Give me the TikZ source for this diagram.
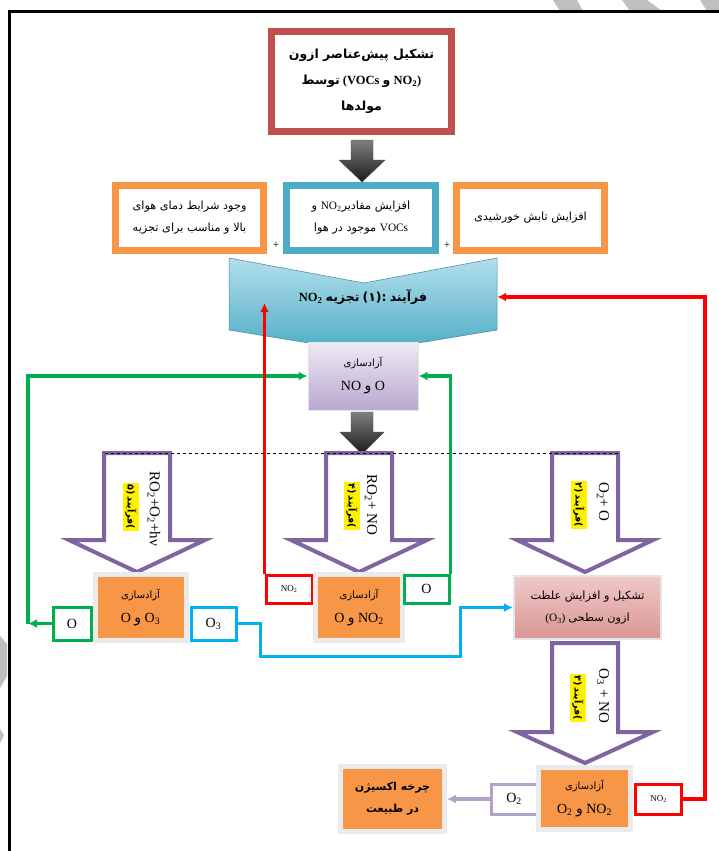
\documentclass[tikz,border=0pt]{standalone}
\usepackage{fontspec}
\setmainfont{Liberation Serif}
\newfontfamily\arabicfont[Script=Arabic]{DejaVu Sans}
\TeXXeTstate=1
\usetikzlibrary{arrows.meta,calc}

\definecolor{boxred}{HTML}{C0504D}
\definecolor{boxorange}{HTML}{F79646}
\definecolor{boxblue}{HTML}{4BACC6}
\definecolor{chevtop}{HTML}{B4DFEB}
\definecolor{chevbot}{HTML}{4BACC6}
\definecolor{arrowpurple}{HTML}{8064A2}
\definecolor{lavtop}{HTML}{EEEAF4}
\definecolor{lavbot}{HTML}{B9A8CF}
\definecolor{pinktop}{HTML}{EFC9C8}
\definecolor{pinkbot}{HTML}{D99694}
\definecolor{flowgreen}{HTML}{00B050}
\definecolor{flowblue}{HTML}{00B0F0}
\definecolor{flowlav}{HTML}{B3A2C7}
\definecolor{wmgray}{HTML}{BFBFBF}

\newcommand{\fa}[1]{{\arabicfont\beginR #1\endR}}
\newcommand{\lat}[1]{\beginL{\rmfamily #1}\endL{}}
\newcommand{\stagelbl}[1]{{\arabicfont (#1\,}\fa{فرآیند}{\arabicfont )}}
\newcommand{\chemtxt}[1]{{\fontsize{14}{20}\selectfont #1}}

\tikzset{
  dblbox/.style={draw=#1, line width=5pt, fill=white, align=center, inner sep=0pt},
  relbox/.style={fill=boxorange, draw=black!8, line width=5pt, align=center, inner sep=0pt},
  tagbox/.style={draw=#1, line width=3pt, fill=white, inner sep=0pt, font=\fontsize{14}{16}\selectfont},
  hollow/.style={draw=arrowpurple, line width=4pt, fill=white, line join=miter},
  rlabel/.style={rotate=-90, inner sep=0pt, font=\fontsize{15}{16}\selectfont},
  hilite/.style={rotate=-90, fill=yellow, inner sep=2pt, font=\bfseries\fontsize{9.5}{11}\selectfont},
  flow/.style={line width=3.5pt, -{Latex[length=9pt,width=9pt]}}
}

\begin{document}
\begin{tikzpicture}[x=1pt, y=-1pt, font=\fontsize{11.3}{22}\selectfont]
\useasboundingbox[fill=white] (0,0) rectangle (719,851);
% watermark bits and frame
\fill[wmgray] (553,0) -- (577,0) -- (583,11) -- (560,11) -- cycle;
\fill[wmgray] (622,0) -- (647,0) -- (662,11) -- (630,11) -- cycle;
\fill[wmgray] (700,0) -- (719,0) -- (719,11) -- (707,11) -- cycle;
\fill[wmgray] (0,636) -- (7,644) -- (7,676) -- (0,688) -- cycle;
\fill[wmgray] (0,729) -- (4,735) -- (0,743) -- cycle;
\draw[line width=3pt] (9,851) -- (9,12) -- (719,12);

% top
\node[dblbox=boxred, minimum width=182, minimum height=102, font=\bfseries\fontsize{12.5}{26}\selectfont] (src) at (361.5,81.5)
  {\fa{تشکیل پیش‌عناصر ازون}\\ \fa{توسط} (VOCs \fa{و} NO\textsubscript{2})\\ \fa{مولدها}};
\draw[boxred, line width=1.3pt] ([shift={(6,6)}]src.north west) rectangle ([shift={(-6,-6)}]src.south east);
\shade[top color=black!50, bottom color=black!90, draw=black!70] (351,140) -- (373,140) -- (373,160) -- (385,160) -- (362,182) -- (339,160) -- (351,160) -- cycle;

% conditions
\node[dblbox=boxorange, minimum width=150, minimum height=67] (heat) at (189.5,218)
  {\fa{وجود شرایط دمای هوای}\\ \fa{بالا و مناسب برای تجزیه}};
\node[dblbox=boxblue, minimum width=151, minimum height=67] (pre) at (361,218)
  {\fa{افزایش مقادیر\lat{NO\textsubscript{2}} و}\\ \fa{\lat{VOCs} موجود در هوا}};
\node[dblbox=boxorange, minimum width=150, minimum height=67] (sun) at (530.5,218)
  {\fa{افزایش تابش خورشیدی}};
\foreach \b/\c in {heat/boxorange,pre/boxblue,sun/boxorange}
  \draw[\c, line width=1.2pt] ([shift={(6,6)}]\b.north west) rectangle ([shift={(-6,-6)}]\b.south east);
\node (plusA) at (276,245) {+};
\node (plusB) at (447,245) {+};

% process 1
\shade[top color=chevtop, bottom color=chevbot, draw=chevbot!80!black, line width=0.5pt]
  (229,258) -- (364,283) -- (497,258) -- (497,330) -- (364,352) -- (229,330) -- cycle;
\node[minimum width=268, minimum height=60, font=\bfseries\fontsize{12.5}{14}\selectfont] (proc1) at (363,297)
  {NO\textsubscript{2} \fa{تجزیه} {\arabicfont :(۱)} \fa{فرآیند}};

\node[top color=lavtop, bottom color=lavbot, draw=black!10, line width=1pt, minimum width=110, minimum height=68, align=center, font=\fontsize{10}{24}\selectfont] (free1) at (363,376)
  {\fa{آزادسازی}\\ \chemtxt{NO \fa{و} O}};
\shade[top color=black!50, bottom color=black!90, draw=black!70] (351,412) -- (373,412) -- (373,432) -- (384,432) -- (362,454) -- (340,432) -- (351,432) -- cycle;

% reaction arrows
\foreach \cx in {137,359,585}
  \draw[hollow] (\cx-33,453) -- (\cx+33,453) -- (\cx+33,540) -- (\cx+68,540) -- (\cx,572) -- (\cx-68,540) -- (\cx-33,540) -- cycle;
\draw[hollow] (552,643) -- (618,643) -- (618,732) -- (653,732) -- (585,763) -- (517,732) -- (552,732) -- cycle;
\draw[dashed, line width=0.8pt] (105,453) -- (618,453);

\node[rlabel] (lblA) at (154,509) {RO\textsubscript{2}+O\textsubscript{2}+hν};
\node[hilite] (stA) at (131,507) {\stagelbl{۵}};
\node[rlabel] (lblB) at (371,505) {RO\textsubscript{2}+ NO};
\node[hilite] (stB) at (352,506) {\stagelbl{۴}};
\node[rlabel] (lblC) at (603,502) {O\textsubscript{2}+ O};
\node[hilite] (stC) at (579,505) {\stagelbl{۲}};
\node[rlabel] (lblD) at (603,696) {O\textsubscript{3} + NO};
\node[hilite] (stD) at (578,698) {\stagelbl{۳}};

% releases
\node[relbox, minimum width=91, minimum height=66, font=\fontsize{10}{24}\selectfont] (freeA) at (140.5,607.5)
  {\fa{آزادسازی}\\ \chemtxt{O \fa{و} O\textsubscript{3}}};
\node[tagbox=flowgreen, minimum width=38, minimum height=33] (oA) at (72,623.5) {O};
\node[tagbox=flowblue, minimum width=45, minimum height=33] (o3A) at (213.5,623.5) {O\textsubscript{3}};
\node[tagbox=red, minimum width=46, minimum height=28, font=\fontsize{9}{10}\selectfont] (no2A) at (289,589) {NO\textsubscript{2}};
\node[relbox, minimum width=87, minimum height=66, font=\fontsize{10}{24}\selectfont] (freeB) at (359,607.5)
  {\fa{آزادسازی}\\ \chemtxt{O \fa{و} NO\textsubscript{2}}};
\node[tagbox=flowgreen, minimum width=45, minimum height=28] (oB) at (426.5,589) {O};
\node[top color=pinktop, bottom color=pinkbot, draw=black!10, line width=2pt, minimum width=147, minimum height=63, align=center] (ozone) at (587.5,607.5)
  {\fa{تشکیل و افزایش علظت}\\ (O\textsubscript{3}) \fa{ازون سطحی}};

\node[relbox, minimum width=104, minimum height=65, font=\bfseries\fontsize{11}{22}\selectfont] (cycle) at (392.5,799)
  {\fa{چرخه اکسیژن}\\ \fa{در طبیعت}};
\node[tagbox=flowlav, minimum width=46, minimum height=30] (o2) at (514,799) {O\textsubscript{2}};
\node[relbox, minimum width=92, minimum height=62, font=\fontsize{10}{24}\selectfont] (freeC) at (584.5,798.5)
  {\fa{آزادسازی}\\ \chemtxt{O\textsubscript{2} \fa{و} NO\textsubscript{2}}};
\node[tagbox=red, minimum width=46, minimum height=30, font=\fontsize{9}{10}\selectfont] (no2B) at (658.5,799) {NO\textsubscript{2}};

% connectors
\coordinate (gcorner) at (28,623.5);
\coordinate (bl1) at (260,656);
\coordinate (bl2) at (460,656);
\coordinate (rcorner) at (705,799);
\draw[flow, flowgreen] (oA.west) -- (gcorner);
\draw[flow, flowgreen] (gcorner) |- (free1.west);
\draw[flow, flowgreen] (oB.north east) |- (free1.east);
\draw[flow, flowblue, line width=3pt] (o3A.east) -| (bl1) -- (bl2) |- (ozone.west);
\draw[flow, red] (no2A.north west) -- ($(no2A.north west |- proc1.center)+(0,6)$);
\draw[flow, red] (no2B.east) -- (rcorner) |- (proc1.east);
\draw[flow, flowlav] (o2.west) -- (cycle.east);
\end{tikzpicture}
\end{document}
